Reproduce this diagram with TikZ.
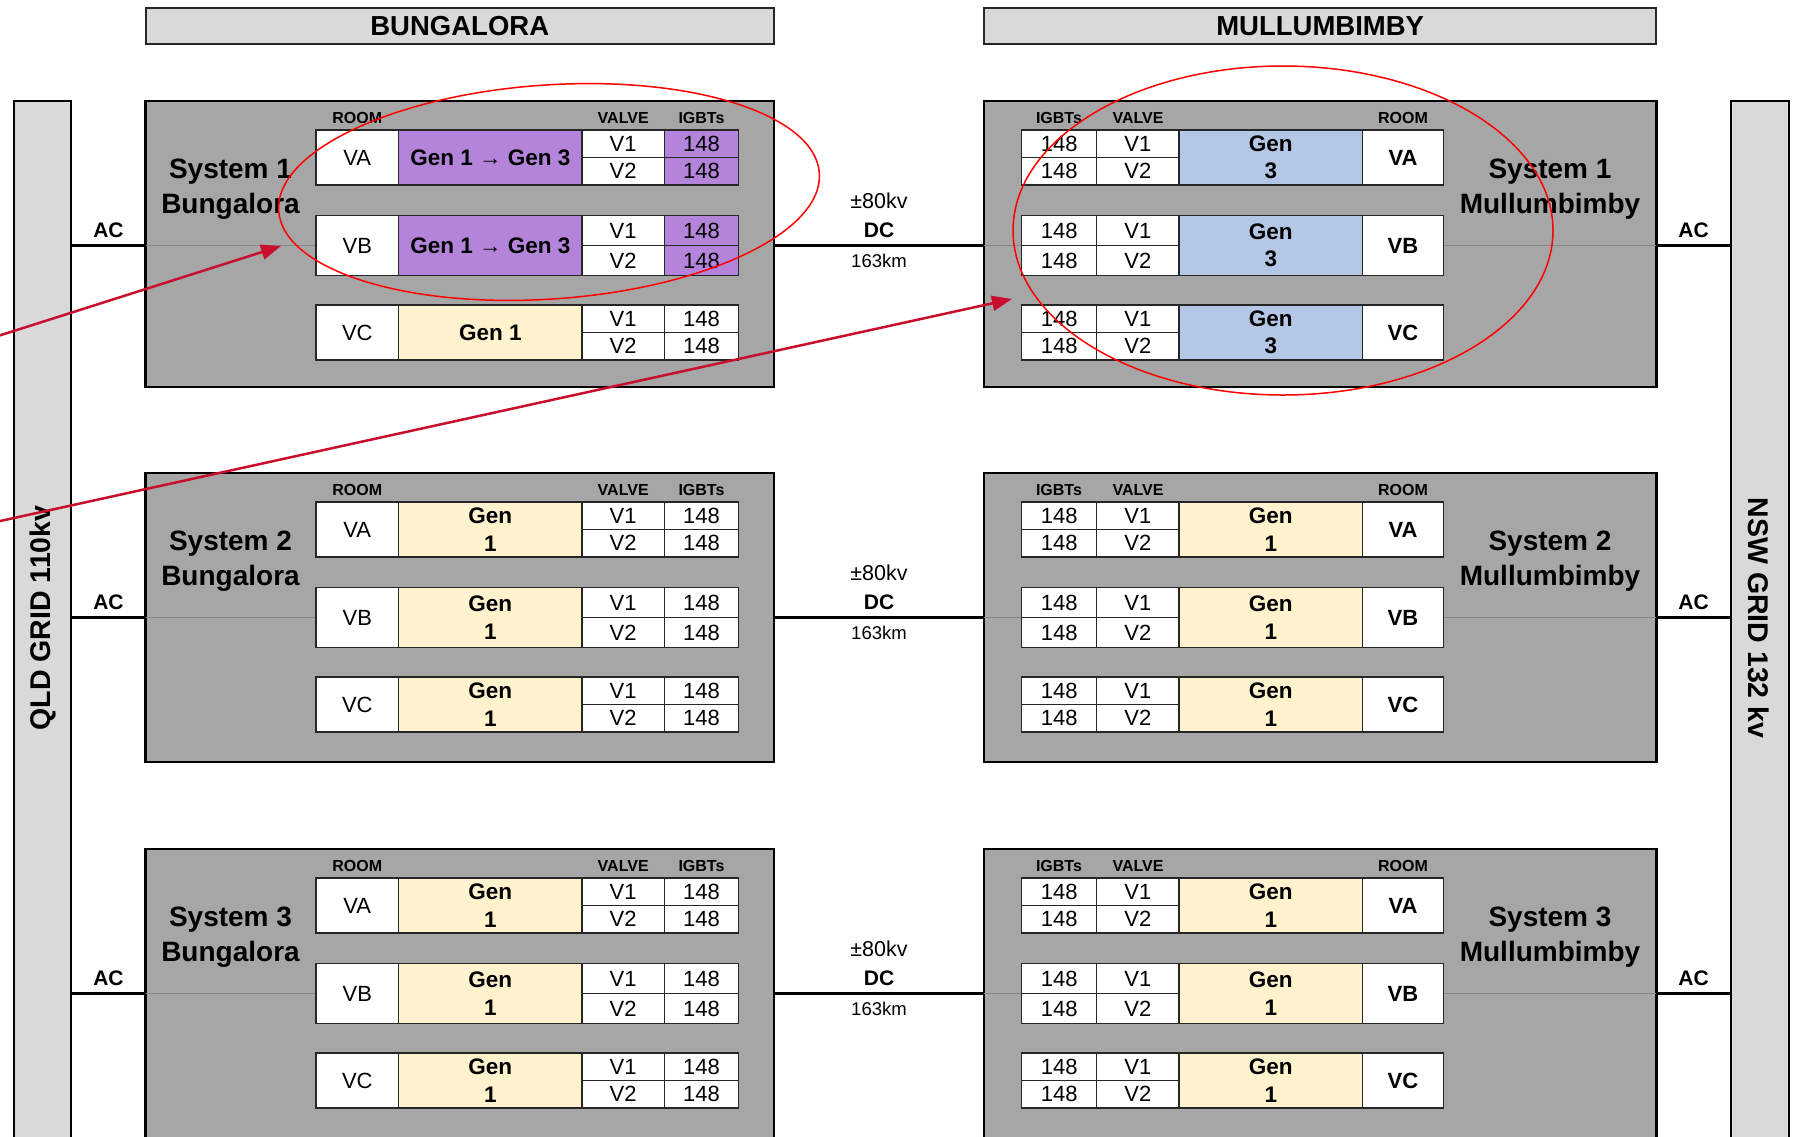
\documentclass[tikz,border=0pt]{standalone}
\usepackage{fontspec}
\setmainfont{Liberation Sans}
\usetikzlibrary{arrows.meta,shapes.geometric}
\definecolor{boxgray}{RGB}{166,166,166}
\definecolor{bargray}{RGB}{217,217,217}
\definecolor{genpurple}{RGB}{180,132,218}
\definecolor{genyellow}{RGB}{255,242,204}
\definecolor{genblue}{RGB}{180,199,231}
\definecolor{arrowred}{RGB}{200,16,46}
\definecolor{ringred}{RGB}{255,0,0}
\definecolor{thingray}{RGB}{135,135,135}
\newcommand{\fCell}{\fontsize{22pt}{26pt}\selectfont}
\newcommand{\fCellB}{\fontsize{22pt}{26pt}\selectfont\bfseries}
\newcommand{\fGen}{\fontsize{22.5pt}{27.5pt}\selectfont\bfseries}
\newcommand{\fHdr}{\fontsize{16pt}{19pt}\selectfont\bfseries}
\newcommand{\fSys}{\fontsize{28pt}{35pt}\selectfont\bfseries}
\newcommand{\fBar}{\fontsize{27.5pt}{32pt}\selectfont\bfseries}
\newcommand{\fGrid}{\fontsize{28.5pt}{32pt}\selectfont\bfseries}
\newcommand{\fAC}{\fontsize{21pt}{24pt}\selectfont\bfseries}
\newcommand{\fDC}{\fontsize{21.5pt}{24pt}\selectfont}
\newcommand{\fKm}{\fontsize{18.5pt}{22pt}\selectfont}
\pgfdeclarelayer{boxlayer}
\pgfdeclarelayer{linelayer}
\pgfsetlayers{boxlayer,linelayer,main}
\tikzset{
  cell/.style={draw=black!85, line width=1.3pt, fill=white, inner sep=0pt, outer sep=0pt, align=center, font=\fCell, anchor=north west},
  gencell/.style={cell, font=\fGen},
  sysbox/.style={draw=black, line width=2.5pt, fill=boxgray, inner sep=0pt, outer sep=0pt, anchor=north west},
  headbar/.style={draw=black!85, line width=2pt, fill=bargray, inner sep=0pt, outer sep=0pt, anchor=north west, font=\fBar},
  gridbar/.style={draw=black, line width=2pt, fill=bargray, inner sep=0pt, outer sep=0pt, anchor=north west},
  gridtext/.style={font=\fGrid, inner sep=0pt},
  mainline/.style={line width=3pt, black},
  thinline/.style={line width=1.5pt, thingray},
  hdr/.style={font=\fHdr, inner sep=0pt},
  systext/.style={font=\fSys, align=center, inner sep=0pt},
  aclabel/.style={font=\fAC, inner sep=0pt},
  dclabel/.style={font=\fDC, inner sep=0pt},
  kmlabel/.style={font=\fKm, inner sep=0pt},
  redarrow/.style={line width=2.5pt, arrowred, -{Triangle[length=20pt,width=15pt]}},
  ring/.style={draw=ringred, line width=1.5pt, ellipse, inner sep=0pt},
}
% Bungalora table row: name, top, height, room, gen fill, gen text, igbt fill
\newcommand{\bungrow}[7]{%
  \pgfmathsetmacro{\rowmid}{#2+#3/2}%
  \node[cell, minimum width=82.6pt, minimum height=#3pt] (#1room) at (316,#2) {#4};
  \node[gencell, fill=#5, minimum width=183.4pt, minimum height=#3pt] (#1gen) at (398.6,#2) {#6};
  \node[cell, minimum width=82.3pt, minimum height=#3pt/2] (#1v1) at (582,#2) {V1};
  \node[cell, minimum width=82.3pt, minimum height=#3pt/2] (#1v2) at (582,\rowmid) {V2};
  \node[cell, fill=#7, minimum width=74.5pt, minimum height=#3pt/2] (#1i1) at (664.3,#2) {148};
  \node[cell, fill=#7, minimum width=74.5pt, minimum height=#3pt/2] (#1i2) at (664.3,\rowmid) {148};
}
% Mullumbimby table row: name, top, height, room, gen fill, gen text
\newcommand{\mullrow}[6]{%
  \pgfmathsetmacro{\rowmid}{#2+#3/2}%
  \node[cell, minimum width=74.9pt, minimum height=#3pt/2] (#1i1) at (1021.7,#2) {148};
  \node[cell, minimum width=74.9pt, minimum height=#3pt/2] (#1i2) at (1021.7,\rowmid) {148};
  \node[cell, minimum width=82.4pt, minimum height=#3pt/2] (#1v1) at (1096.6,#2) {V1};
  \node[cell, minimum width=82.4pt, minimum height=#3pt/2] (#1v2) at (1096.6,\rowmid) {V2};
  \node[gencell, fill=#5, minimum width=183.5pt, minimum height=#3pt] (#1gen) at (1179,#2) {#6};
  \node[cell, font=\fCellB, minimum width=81pt, minimum height=#3pt] (#1room) at (1362.5,#2) {#4};
}
\begin{document}
\begin{tikzpicture}[x=1pt,y=-1pt]
\useasboundingbox (0,0) rectangle (1796,1136);
\begin{pgfonlayer}{boxlayer}
\fill[white] (0,0) rectangle (1796,1136);
\node[headbar, minimum width=628.5pt, minimum height=35.5pt] (hbung) at (145.5,8) {BUNGALORA};
\node[headbar, minimum width=672.3pt, minimum height=35.5pt] (hmull) at (984,8) {MULLUMBIMBY};
\node[gridbar, minimum width=57pt, minimum height=1060pt] (qld) at (14,101) {};
\node[gridbar, minimum width=58pt, minimum height=1060pt] (nsw) at (1731,101) {};
\foreach \s/\tp/\hh in {1/101/286, 2/473/289, 3/849/300}{
  \node[sysbox, minimum width=628.5pt, minimum height=\hh pt] (b\s-box) at (145.5,\tp) {};
  \node[sysbox, minimum width=672.3pt, minimum height=\hh pt] (m\s-box) at (984,\tp) {};
}
\end{pgfonlayer}
\node[gridtext, rotate=90] (qldt) at (42.5,618) {QLD GRID 110kv};
\node[gridtext, rotate=-90] (nswt) at (1759,618) {NSW GRID 132 kv};

% System 1 tables
\bungrow{b1-VA-}{130}{55}{VA}{genpurple}{Gen 1 → Gen 3}{genpurple}
\bungrow{b1-VB-}{215.5}{60}{VB}{genpurple}{Gen 1 → Gen 3}{genpurple}
\bungrow{b1-VC-}{305}{55}{VC}{genyellow}{Gen 1}{white}
\mullrow{m1-VA-}{130}{55}{VA}{genblue}{Gen\\3}
\mullrow{m1-VB-}{215.5}{60}{VB}{genblue}{Gen\\3}
\mullrow{m1-VC-}{305}{55}{VC}{genblue}{Gen\\3}

% Systems 2 and 3 tables
\foreach \s/\tp in {2/473, 3/849}{
  \pgfmathsetmacro{\ta}{\tp+29}
  \pgfmathsetmacro{\tb}{\tp+114.5}
  \pgfmathsetmacro{\tc}{\tp+204}
  \bungrow{b\s-VA-}{\ta}{55}{VA}{genyellow}{Gen\\1}{white}
  \bungrow{b\s-VB-}{\tb}{60}{VB}{genyellow}{Gen\\1}{white}
  \bungrow{b\s-VC-}{\tc}{55}{VC}{genyellow}{Gen\\1}{white}
  \mullrow{m\s-VA-}{\ta}{55}{VA}{genyellow}{Gen\\1}
  \mullrow{m\s-VB-}{\tb}{60}{VB}{genyellow}{Gen\\1}
  \mullrow{m\s-VC-}{\tc}{55}{VC}{genyellow}{Gen\\1}
}

% labels, lines
\foreach \s/\tp in {1/101, 2/473, 3/849}{
  \pgfmathsetmacro{\yh}{\tp+17}
  \pgfmathsetmacro{\ys}{\tp+88.5}
  \pgfmathsetmacro{\yac}{\tp+129}
  \pgfmathsetmacro{\ypm}{\tp+100}
  \pgfmathsetmacro{\ykm}{\tp+160}
  \node[hdr] (b\s-hroom) at (357.3,\yh) {ROOM};
  \node[hdr] (b\s-hvalve) at (623.2,\yh) {VALVE};
  \node[hdr] (b\s-higbt) at (701.5,\yh) {IGBTs};
  \node[hdr] (m\s-higbt) at (1059,\yh) {IGBTs};
  \node[hdr] (m\s-hvalve) at (1138,\yh) {VALVE};
  \node[hdr] (m\s-hroom) at (1403,\yh) {ROOM};
  \node[systext] (b\s-name) at (230.5,\ys) {System \s\\Bungalora};
  \node[systext] (m\s-name) at (1550,\ys) {System \s\\Mullumbimby};
  \node[aclabel] (b\s-ac) at (108.5,\yac) {AC};
  \node[aclabel] (m\s-ac) at (1693.5,\yac) {AC};
  \node[dclabel] (d\s-kv) at (879,\ypm) {±80kv};
  \node[aclabel] (d\s-dc) at (879,\yac) {DC};
  \node[kmlabel] (d\s-km) at (879,\ykm) {163km};
  \begin{pgfonlayer}{linelayer}
    \draw[thinline] (b\s-box.west |- b\s-VB-room.west) -- (b\s-VB-room.west);
    \draw[thinline] (m\s-box.west |- m\s-VB-room.east) -- (m\s-box.east |- m\s-VB-room.east);
  \end{pgfonlayer}
  \draw[mainline] (qld.east |- b\s-VB-room.west) -- (b\s-box.west |- b\s-VB-room.west);
  \draw[mainline] (b\s-box.east |- b\s-VB-room.west) -- (m\s-box.west |- b\s-VB-room.west);
  \draw[mainline] (m\s-box.east |- m\s-VB-room.east) -- (nsw.west |- m\s-VB-room.east);
}

% annotations
\node[ring, minimum width=542pt, minimum height=214pt, rotate=4] (ring1) at (549,192) {};
\node[ring, minimum width=540pt, minimum height=329pt] (ring2) at (1283,230.5) {};
\coordinate (a1s) at (-2,336);
\coordinate (a1e) at (281,246);
\coordinate (a2s) at (-2,521.5);
\coordinate (a2e) at (1012,299);
\draw[redarrow] (a1s) -- (a1e);
\draw[redarrow] (a2s) -- (a2e);
\end{tikzpicture}
\end{document}
